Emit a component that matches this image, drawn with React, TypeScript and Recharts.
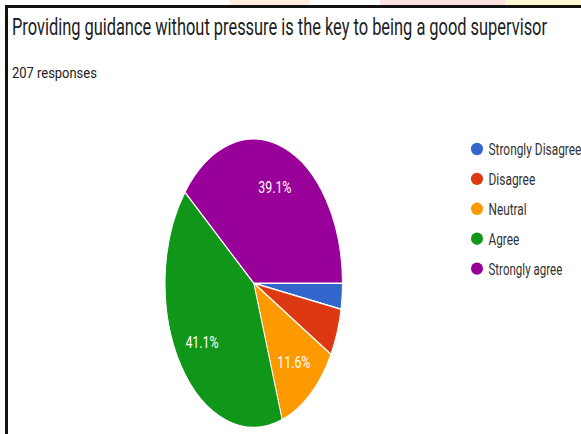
import { Cell, Pie, PieChart } from 'recharts'

const categories = ['Strongly Disagree', 'Disagree', 'Neutral', 'Agree', 'Strongly agree']
const responses = [6, 11, 24, 85, 81]
const colors = ['#3366cc', '#dc3912', '#ff9900', '#109618', '#990099']
const legendTextWidths = [151, 76, 62, 50, 120]

const title = 'Providing guidance without pressure is the key to being a good supervisor'
const subtitle = '207 responses'

// the screenshot is squeezed horizontally, so draw wide and scale x down
const SX = 0.615
const W = 945
const H = 434

const data = categories.map((name, i) => ({ name, value: responses[i] }))

const RAD = Math.PI / 180

function renderLabel(props: any) {
  const { cx, cy, midAngle, outerRadius, percent } = props
  if (percent < 0.1) return null
  const r = outerRadius * 0.71
  const x = cx + r * Math.cos(-midAngle * RAD)
  const y = cy + r * Math.sin(-midAngle * RAD)
  return (
    <text
      x={x}
      y={y}
      fill="#ffffff"
      fontSize={17}
      fontFamily="Roboto, sans-serif"
      textAnchor="middle"
      dominantBaseline="central"
      textLength={54}
      lengthAdjust="spacingAndGlyphs"
    >
      {(percent * 100).toFixed(1)}%
    </text>
  )
}

export default function App() {
  return (
    <div style={{ position: 'fixed', left: 0, top: 0, width: 581, height: H, overflow: 'hidden', background: '#fff' }}>
      <div style={{ position: 'absolute', left: 230, top: 0, width: 80, height: 5, background: '#fdeede' }} />
      <div style={{ position: 'absolute', left: 380, top: 0, width: 125, height: 5, background: '#fde2e2' }} />
      <div style={{ position: 'absolute', left: 505, top: 0, width: 76, height: 5, background: '#fdf8d2' }} />
      <div style={{ position: 'absolute', left: 0, top: 0, width: W, height: H, transform: `scaleX(${SX})`, transformOrigin: 'left top' }}>
        <PieChart width={W} height={H} margin={{ top: 0, right: 0, bottom: 0, left: 0 }}>
          <Pie
            data={data}
            dataKey="value"
            nameKey="name"
            cx={412.6}
            cy={283.2}
            outerRadius={144.2}
            startAngle={0}
            endAngle={-360}
            stroke="#ffffff"
            strokeWidth={1.5}
            label={renderLabel}
            labelLine={false}
            isAnimationActive={false}
          >
            {data.map((d, i) => (
              <Cell key={d.name} fill={colors[i]} />
            ))}
          </Pie>
        </PieChart>
        <svg width={W} height={H} style={{ position: 'absolute', left: 0, top: 0 }}>
          <text x={19.5} y={35} fontSize={24} fill="#202124" fontFamily="Roboto, sans-serif" textLength={870} lengthAdjust="spacingAndGlyphs">
            {title}
          </text>
          <text x={19.5} y={78.5} fontSize={15.5} fill="#202124" fontFamily="Roboto, sans-serif" textLength={138} lengthAdjust="spacingAndGlyphs">
            {subtitle}
          </text>
          {categories.map((c, i) => (
            <g key={c}>
              <ellipse cx={775.6} cy={149 + i * 29.9} rx={9.8} ry={6.2} fill={colors[i]} />
              <text
                x={794.3}
                y={155 + i * 29.9}
                fontSize={16.5}
                fill="#333333"
                fontFamily="Roboto, sans-serif"
                textLength={legendTextWidths[i]}
                lengthAdjust="spacingAndGlyphs"
              >
                {c}
              </text>
            </g>
          ))}
        </svg>
      </div>
      <div style={{ position: 'absolute', left: 5, top: 5, width: 576, height: 3, background: '#111' }} />
      <div style={{ position: 'absolute', left: 5, top: 5, width: 3, height: H - 5, background: '#111' }} />
    </div>
  )
}
